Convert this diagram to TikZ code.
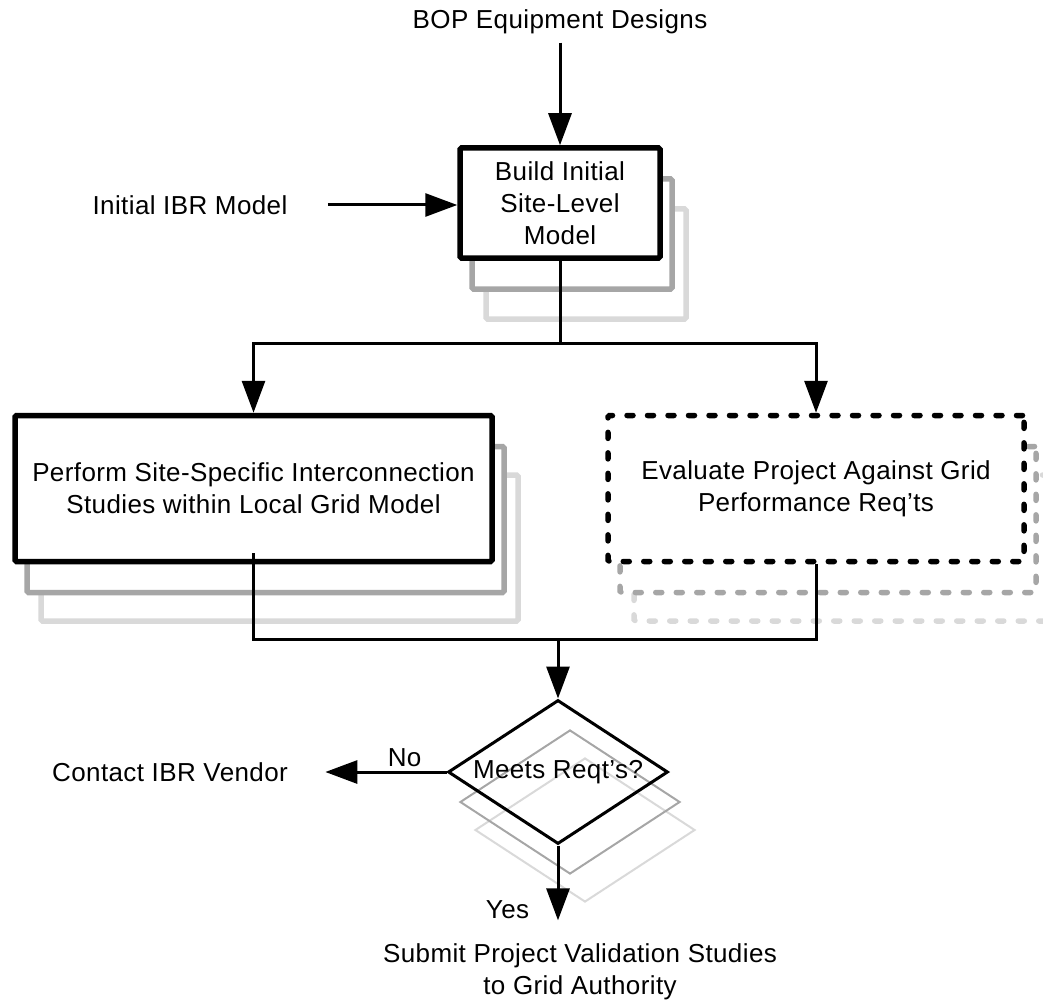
\documentclass[tikz,border=0pt]{standalone}
\usepackage{fontspec}
\setmainfont{Liberation Sans}[LetterSpace=1.5]
\usetikzlibrary{shapes.geometric,arrows.meta}
\definecolor{shadeMid}{gray}{0.65}
\definecolor{shadeLight}{gray}{0.85}

\begin{document}
\begin{tikzpicture}[x=1pt, y=-1pt, align=center, font=\fontsize{26}{32}\selectfont]
	% Node styles
	\tikzstyle{process} = [rectangle, draw, line width=5.5pt, fill=white, rounded corners=1.5pt]
	\tikzstyle{buildbox} = [process, minimum width=200pt, minimum height=110pt]
	\tikzstyle{studybox} = [process, minimum width=477pt, minimum height=146pt]
	\tikzstyle{evalbox} = [studybox, minimum width=416pt, dash pattern=on 6pt off 14.5pt, line cap=round]
	\tikzstyle{decision} = [diamond, draw, line width=3pt, minimum width=220pt, minimum height=144pt, inner sep=0pt]
	\tikzstyle{midshade} = [draw=shadeMid]
	\tikzstyle{lightshade} = [draw=shadeLight]
	\tikzstyle{wire} = [line width=3pt]
	\tikzstyle{arrow} = [wire, -{Triangle[length=32pt,width=23pt]}]

	\useasboundingbox (0,0) rectangle (1043,1000);

	% Nodes
	\node (bop) at (560,22) {BOP Equipment Designs};
	\node (ibr) at (190,205) {Initial IBR Model};

	\node[buildbox, lightshade] (build3) at (586,264) {};
	\node[buildbox, midshade] (build2) at (572,234) {};
	\node[buildbox] (build) at (560,203) {Build Initial\\Site-Level\\Model};

	\node[studybox, lightshade] (perform3) at (279.5,548) {};
	\node[studybox, midshade] (perform2) at (265.5,519.5) {};
	\node[studybox] (perform) at (253.5,488.5) {Perform Site-Specific Interconnection\\Studies within Local Grid Model};

	\node[evalbox, lightshade] (evaluate3) at (842,548) {};
	\node[evalbox, midshade] (evaluate2) at (828,519.5) {};
	\node[evalbox] (evaluate) at (816,488.5) {Evaluate Project Against Grid\\Performance Req’ts};

	\node[decision, line width=2pt, lightshade] (meets3) at (585,830) {};
	\node[decision, line width=2pt, midshade] (meets2) at (570,802) {};
	\node[decision, label={[name=meetsText]center:Meets Reqt’s?}] (meets) at (558,772) {};

	\node (contact) at (170,772) {Contact IBR Vendor};
	\node (submit) at (580,972) {Submit Project Validation Studies\\to Grid Authority};

	\coordinate (split) at (560,343);
	\coordinate (merge) at (558,639);

	% Arrows
	\draw[arrow, shorten <=5pt] (bop) -- (build);
	\draw[arrow, shorten <=37pt] (ibr) -- (ibr -| build.west);
	\draw[wire] (build) -- (split);
	\draw[arrow] (split) -| (perform);
	\draw[arrow] (split) -| (evaluate);
	\draw[wire] ([yshift=11pt]perform.south) |- (merge);
	\draw[wire] (evaluate) |- (merge);
	\draw[arrow] (merge) -- (meets);
	\draw[arrow, shorten >=34pt] (meets) -- (contact) node[pos=0.27, above] (no) {No};
	\draw[arrow, shorten >=20pt] (meets) -- (meets.south |- submit.north) node[pos=0.68, left=24pt] (yes) {Yes};
\end{tikzpicture}
\end{document}
